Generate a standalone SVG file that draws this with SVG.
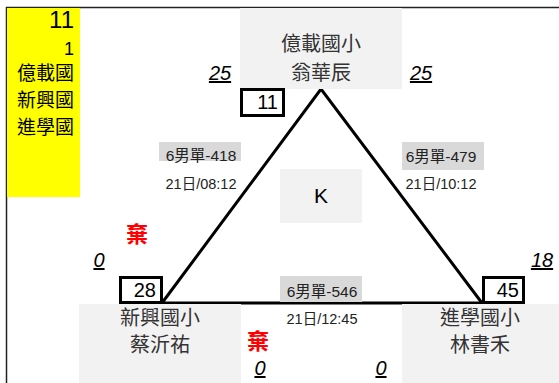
<svg xmlns="http://www.w3.org/2000/svg" width="559" height="383" viewBox="0 0 559 383">
<style>
text{font-family:"Liberation Sans","Noto Sans CJK TC",Arial,sans-serif;fill:#000}
.bg{fill:#f2f2f2}
.lab{fill:#d9d9d9}
.nm{font-size:20px;fill:#333;text-anchor:middle}
.yl{font-size:19px;text-anchor:end;fill:#000}
.sc{font-size:20px;font-style:italic;text-decoration:underline;text-anchor:middle}
.bx{fill:#fff;stroke:#000;stroke-width:3}
.bn{font-size:20px;text-anchor:end}
.ml{font-size:15.5px;text-anchor:middle;fill:#222}
.tm{font-size:14.5px;text-anchor:middle;fill:#222}
.rj{font-size:22px;font-weight:bold;fill:#ff0000;text-anchor:middle}
.edge{stroke:#000;stroke-width:3;fill:none}
</style>
<rect x="0" y="0" width="559" height="383" fill="#fff"/>
<g id="frame">
<line x1="6" y1="7.5" x2="559" y2="7.5" stroke="#222" stroke-width="1.5"/>
<line x1="6.5" y1="7" x2="6.5" y2="383" stroke="#222" stroke-width="1.5"/>
</g>
<g id="legend">
<rect x="7" y="8" width="73" height="189" fill="#ffff00"/>
<text x="74" y="28" style="font-size:24px;text-anchor:end">11</text>
<text x="74" y="55" style="font-size:18px;text-anchor:end">1</text>
<text x="74" y="80" class="yl">億載國</text>
<text x="74" y="107" class="yl">新興國</text>
<text x="74" y="134" class="yl">進學國</text>
</g>
<g id="connectors">
<polyline class="edge" points="162,303 321,89 482,303"/>
<line class="edge" x1="162" y1="303" x2="482" y2="303"/>
</g>
<g id="node-top">
<rect class="bg" x="240" y="8" width="162" height="81"/>
<text x="321" y="51" class="nm">億載國小</text>
<text x="321" y="80" class="nm">翁華辰</text>
<rect class="bx" x="241.5" y="89.5" width="42" height="26"/>
<text x="278" y="109" class="bn">11</text>
<text x="220" y="80" class="sc">25</text>
<text x="421" y="80" class="sc">25</text>
</g>
<g id="node-left">
<rect class="bg" x="79" y="304" width="162" height="79"/>
<text x="160" y="325" class="nm">新興國小</text>
<text x="160" y="352" class="nm">蔡沂祐</text>
<rect class="bx" x="120.5" y="277.5" width="41" height="25"/>
<text x="156" y="297" class="bn">28</text>
<text x="99" y="267" class="sc">0</text>
<text x="137" y="242" class="rj">棄</text>
</g>
<g id="node-right">
<rect class="bg" x="402" y="304" width="157" height="79"/>
<text x="480" y="325" class="nm">進學國小</text>
<text x="480" y="352" class="nm">林書禾</text>
<rect class="bx" x="483.5" y="277.5" width="40" height="25"/>
<text x="519" y="297" class="bn">45</text>
<text x="542" y="267" class="sc">18</text>
</g>
<g id="match-left">
<rect class="lab" x="159" y="142" width="82" height="19"/>
<text x="201" y="161" class="ml">6男單-418</text>
<text x="201" y="189" class="tm">21日/08:12</text>
</g>
<g id="match-right">
<rect class="lab" x="402" y="142" width="82" height="28"/>
<text x="441" y="162" class="ml">6男單-479</text>
<text x="441" y="189" class="tm">21日/10:12</text>
</g>
<g id="match-bottom">
<rect class="lab" x="280" y="276" width="82" height="26"/>
<text x="322" y="297" class="ml">6男單-546</text>
<text x="322" y="324" class="tm">21日/12:45</text>
</g>
<g id="center">
<rect class="bg" x="280" y="169" width="82" height="54"/>
<text x="321" y="203" style="font-size:21px;text-anchor:middle">K</text>
</g>
<g id="bottom-scores">
<text x="258" y="349" class="rj">棄</text>
<text x="260" y="375" class="sc">0</text>
<text x="381" y="375" class="sc">0</text>
</g>
</svg>
